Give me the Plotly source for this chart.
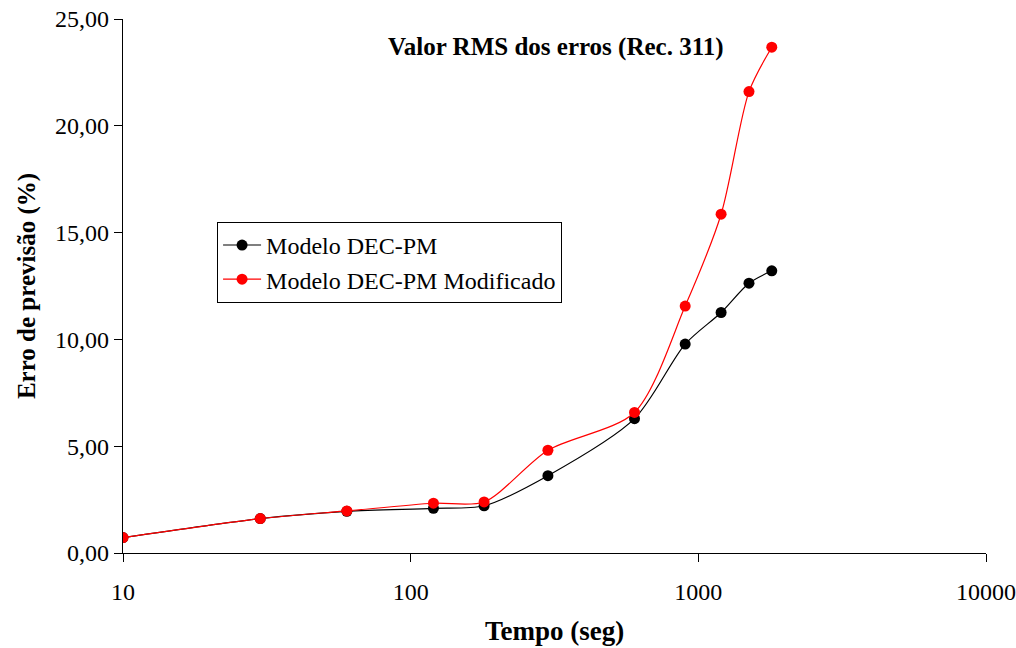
import plotly.graph_objects as go

# Tempo (s) and RMS prediction error (%) for the two models
tempo = [10, 30, 60, 120, 180, 300, 600, 900, 1200, 1500, 1800]
erro_dec_pm = [0.72, 1.61, 1.95, 2.09, 2.21, 3.62, 6.29, 9.78, 11.26, 12.63, 13.21]
erro_dec_pm_mod = [0.72, 1.61, 1.97, 2.33, 2.39, 4.81, 6.58, 11.56, 15.86, 21.60, 23.68]

serie_nomes = ["Modelo DEC-PM", "Modelo DEC-PM Modificado"]
serie_cores = ["#000000", "#FF0000"]

font_family = "Liberation Serif, Times New Roman, serif"

fig = go.Figure()
for nome, valores, cor in zip(serie_nomes, [erro_dec_pm, erro_dec_pm_mod], serie_cores):
    fig.add_trace(go.Scatter(
        x=tempo, y=valores, name=nome, mode="lines+markers",
        line=dict(color=cor, width=1.2, shape="spline", smoothing=0.8),
        marker=dict(color=cor, size=11),
    ))

fig.update_layout(
    width=1016, height=648,
    margin=dict(l=123, r=30, t=19, b=95),
    paper_bgcolor="white", plot_bgcolor="white",
    font=dict(family=font_family, color="black", size=24),
    separators=",.",
    showlegend=True,
    legend=dict(
        x=0.109, y=0.62, xanchor="left", yanchor="top",
        bordercolor="black", borderwidth=1, bgcolor="white",
        font=dict(size=24, family=font_family),
        tracegroupgap=0, itemwidth=38,
    ),
    annotations=[dict(
        text="<b>Valor RMS dos erros (Rec. 311)</b>",
        x=0.502, y=(553 - 47) / (553 - 19), xref="paper", yref="paper",
        xanchor="center", yanchor="middle",
        showarrow=False, font=dict(size=25, family=font_family),
    )],
)

fig.update_xaxes(
    type="log", range=[1, 4], automargin=False,
    tickvals=[10, 100, 1000, 10000], ticktext=["10", "100", "1000", "10000"],
    showline=True, linecolor="black", linewidth=1.2,
    ticks="outside", ticklen=8, tickcolor="black",
    showgrid=False, zeroline=False,
    tickfont=dict(size=24), ticklabelstandoff=9,
    title=dict(text="<b>Tempo (seg)</b>", font=dict(size=27), standoff=17),
)
fig.update_yaxes(
    range=[0, 25], tickvals=[0, 5, 10, 15, 20, 25], tickformat=".2f",
    automargin=False,
    showline=True, linecolor="black", linewidth=1.2,
    ticks="outside", ticklen=8, tickcolor="black",
    showgrid=False, zeroline=False,
    tickfont=dict(size=24),
    title=dict(text="<b>Erro de previsão (%)</b>", font=dict(size=25), standoff=12),
)

fig.write_html("out.html")
